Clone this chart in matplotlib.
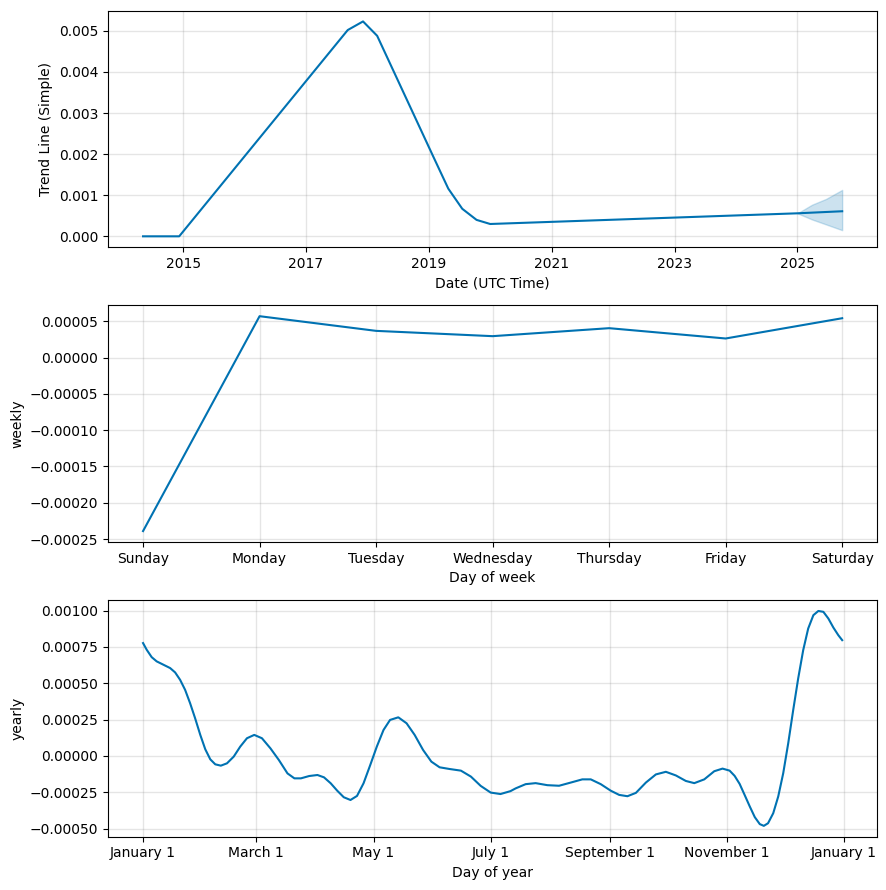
import datetime as dt
import matplotlib
matplotlib.use("Agg")
import matplotlib.pyplot as plt
import matplotlib.dates as mdates
from matplotlib.ticker import FuncFormatter
import pandas as pd

# trend component
trend_dates = ["2014-05-08", "2014-12-09", "2017-09-06", "2017-12-06", "2018-02-28",
               "2019-01-30", "2019-04-27", "2019-07-19", "2019-10-12", "2020-01-01",
               "2025-01-01", "2025-09-24"]
trend_vals = [0.0, 0.0, 0.00502, 0.00523, 0.00488,
              0.00192, 0.00116, 0.00067, 0.00040, 0.00030,
              0.00056, 0.00061]

band_dates = ["2025-01-01", "2025-03-29", "2025-06-20", "2025-09-24"]
band_lower = [0.00056, 0.00041, 0.00029, 0.00015]
band_upper = [0.00056, 0.00077, 0.00091, 0.00113]

trend_tick_years = [2015, 2017, 2019, 2021, 2023, 2025]

# weekly component
week_days = ["Sunday", "Monday", "Tuesday", "Wednesday", "Thursday", "Friday", "Saturday"]
weekly_vals = [-0.000239, 0.0000569, 0.0000367, 0.0000294, 0.0000404, 0.0000262, 0.0000541]

# yearly component, day offset from January 1
year_days = [0, 1.9, 4.5, 7.1, 10.6, 14.1, 16.7, 19.3, 21.9, 24.5, 27.1, 29.8, 32.4, 35.0,
             37.6, 40.5, 43.7, 47.2, 50.6, 54.1, 57.9, 61.9, 66.3, 70.7, 75.2, 78.8, 82.2,
             86.5, 90.8, 94.2, 97.7, 101.1, 104.5, 108.0, 111.4, 114.8, 118.3, 121.7, 125.2,
             128.6, 132.9, 137.2, 141.4, 145.8, 150.1, 154.4, 159.5, 165.5, 170.7, 175.8,
             181.0, 186.1, 191.3, 194.0, 199.2, 204.4, 210.5, 216.6, 222.7, 228.7, 233.1,
             238.3, 243.5, 247.9, 252.2, 256.6, 261.8, 267.0, 272.2, 277.4, 282.6, 287.0,
             292.2, 297.4, 301.7, 305.4, 308.0, 310.6, 313.2, 315.9, 318.5, 321.1, 323.2,
             325.4, 328.1, 330.7, 333.3, 335.9, 338.5, 341.1, 343.7, 346.3, 349.0, 351.6,
             354.2, 356.8, 359.4, 362.0, 364]
yearly_vals = [0.000777, 0.000731, 0.000680, 0.000651, 0.000628, 0.000605, 0.000575,
               0.000524, 0.000455, 0.000363, 0.000260, 0.000145, 0.0000460, -0.0000230,
               -0.0000575, -0.0000667, -0.0000506, -0.0000046, 0.0000644, 0.000122,
               0.000145, 0.000122, 0.0000529, -0.0000276, -0.000120, -0.000154, -0.000154,
               -0.000138, -0.000131, -0.000147, -0.000188, -0.000239, -0.000284, -0.000303,
               -0.000275, -0.000188, -0.0000619, 0.0000642, 0.000179, 0.000248, 0.000266,
               0.000225, 0.000145, 0.0000413, -0.0000390, -0.0000780, -0.0000895, -0.000101,
               -0.000142, -0.000206, -0.000252, -0.000262, -0.000242, -0.000223, -0.000194,
               -0.000187, -0.000201, -0.000205, -0.000183, -0.000161, -0.000161, -0.000194,
               -0.000239, -0.000268, -0.000277, -0.000254, -0.000183, -0.000127, -0.000109,
               -0.000134, -0.000172, -0.000187, -0.000161, -0.000105, -0.0000870, -0.000101,
               -0.000137, -0.000192, -0.000268, -0.000348, -0.000421, -0.000469, -0.000481,
               -0.000463, -0.000394, -0.000279, -0.000119, 0.0000870, 0.000316, 0.000534,
               0.000728, 0.000877, 0.000969, 0.000998, 0.000992, 0.000946, 0.000884,
               0.000831, 0.000797]

BLUE = "#0072B2"

fig, axes = plt.subplots(3, 1, figsize=(8.86, 8.90), dpi=100)
plt.subplots_adjust(left=0.122, right=0.990, top=0.988, bottom=0.060, hspace=0.247)

# trend
ax = axes[0]
ax.plot(pd.to_datetime(trend_dates), trend_vals, ls="-", c=BLUE)
ax.fill_between(pd.to_datetime(band_dates), band_lower, band_upper, color=BLUE, alpha=0.2)
ax.set_xticks([mdates.date2num(dt.datetime(y, 1, 1)) for y in trend_tick_years])
ax.xaxis.set_major_formatter(mdates.DateFormatter("%Y"))
ax.grid(True, which="major", c="gray", ls="-", lw=1, alpha=0.2)
ax.set_xlabel("Date (UTC Time)")
ax.set_ylabel("Trend Line (Simple)")

# weekly
ax = axes[1]
ax.plot(range(len(week_days)), weekly_vals, ls="-", c=BLUE)
ax.set_xticks(range(len(week_days)))
ax.set_xticklabels(week_days)
ax.grid(True, which="major", c="gray", ls="-", lw=1, alpha=0.2)
ax.set_xlabel("Day of week")
ax.set_ylabel("weekly")

# yearly
ax = axes[2]
ydates = pd.Timestamp("2017-01-01") + pd.to_timedelta(year_days, unit="D")
ax.plot(ydates.to_pydatetime(), yearly_vals, ls="-", c=BLUE)
ax.xaxis.set_major_locator(mdates.MonthLocator(range(1, 13), bymonthday=1, interval=2))
ax.xaxis.set_major_formatter(FuncFormatter(
    lambda x, pos=None: "{d:%B} {d.day}".format(d=mdates.num2date(x))))
ax.grid(True, which="major", c="gray", ls="-", lw=1, alpha=0.2)
ax.set_xlabel("Day of year")
ax.set_ylabel("yearly")

fig.savefig("out.png", dpi=100)
